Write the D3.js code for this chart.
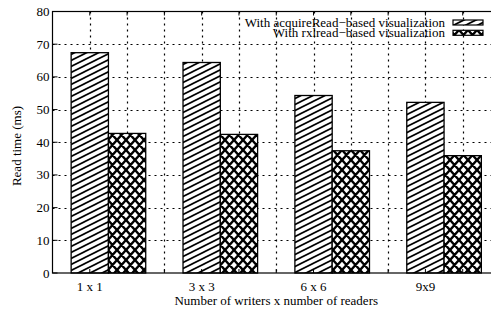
<!DOCTYPE html>
<html>
<head>
<meta charset="utf-8">
<script src="https://cdnjs.cloudflare.com/ajax/libs/d3/7.8.5/d3.min.js"></script>
<style>
  body { margin: 0; background: #fff; }
  svg { display: block; font-family: "Liberation Serif", "DejaVu Serif", serif; }
</style>
</head>
<body>
<div id="chart"></div>
<script>
var categories = ['1 x 1', '3 x 3', '6 x 6', '9x9'];
var acquireRead = [67.4, 64.4, 54.3, 52.2];
var rxlread = [42.7, 42.4, 37.4, 35.9];
var seriesNames = ['With acquireRead\u2212based visualization', 'With rxlread\u2212based visualization'];
var yTicks = [0, 10, 20, 30, 40, 50, 60, 70, 80];

function draw() {

  var width = 491, height = 313;
  var fontSize = 13;

  var svg = d3.select('#chart').append('svg')
    .attr('width', width)
    .attr('height', height);

  // fill patterns
  var defs = svg.append('defs');

  var hatch = defs.append('pattern')
    .attr('id', 'hatch')
    .attr('patternUnits', 'userSpaceOnUse')
    .attr('width', 12).attr('height', 6);
  hatch.append('rect').attr('width', 12).attr('height', 6).attr('fill', '#fff');
  hatch.append('path')
    .attr('d', 'M-12,12 L12,0 M0,6 L24,-6 M-12,6 L12,-6 M0,12 L24,0')
    .attr('stroke', '#000').attr('stroke-width', 1.7);

  var cross = defs.append('pattern')
    .attr('id', 'cross')
    .attr('patternUnits', 'userSpaceOnUse')
    .attr('width', 9).attr('height', 10);
  cross.append('rect').attr('width', 9).attr('height', 10).attr('fill', '#fff');
  cross.append('path')
    .attr('d', 'M0,10 L9,0 M-9,10 L9,-10 M0,20 L18,0 M0,0 L9,10 M-9,0 L9,20 M0,-10 L18,10')
    .attr('stroke', '#000').attr('stroke-width', 2.4);

  var fills = ['url(#hatch)', 'url(#cross)'];

  // x in bar-width units: each cluster = 2 bars + 1 gap
  var x = d3.scaleLinear().domain([-0.5, 11.5]).range([52.5, 500]);
  var y = d3.scaleLinear().domain([0, 80]).range([273, 11.5]);

  var x0 = x(-0.5), x1 = x(11.5), y0 = y(80), y1 = y(0);

  var gridU = d3.range(0, 11).map(function (k) { return k + 0.5; });

  // grid (dotted)
  var grid = svg.append('g');

  yTicks.slice(1, -1).forEach(function (v) {
    var py = Math.round(y(v)) + 0.5;
    grid.append('line')
      .attr('x1', x0).attr('x2', x1)
      .attr('y1', py).attr('y2', py)
      .style('stroke', '#000')
      .style('stroke-width', '1.2px')
      .style('stroke-dasharray', '2 4');
  });

  gridU.forEach(function (u) {
    var px = Math.round(x(u)) + 0.5;
    grid.append('line')
      .attr('x1', px).attr('x2', px)
      .attr('y1', y0).attr('y2', y1)
      .style('stroke', '#000')
      .style('stroke-width', '1.2px')
      .style('stroke-dasharray', '2 4');
  });

  // bars
  [acquireRead, rxlread].forEach(function (vals, s) {
    svg.append('g').selectAll('rect')
        .data(vals)
        .enter()
      .append('rect')
        .attr('x', function (d, i) { return x(3 * i + s); })
        .attr('width', x(1) - x(0))
        .attr('y', function (d) { return y(d); })
        .attr('height', function (d) { return y1 - y(d); })
        .attr('fill', fills[s])
        .attr('stroke', '#000')
        .attr('stroke-width', 1.3);
  });

  // border
  svg.append('rect')
    .attr('x', x0).attr('y', y0)
    .attr('width', x1 - x0).attr('height', y1 - y0)
    .attr('fill', 'none')
    .attr('stroke', '#000')
    .attr('stroke-width', 1.2);

  // y ticks
  var yAxis = svg.append('g');
  yAxis.selectAll('line')
      .data(yTicks)
      .enter()
    .append('line')
      .attr('x1', x0).attr('x2', x0 + 5)
      .attr('y1', function (d) { return y(d); })
      .attr('y2', function (d) { return y(d); })
      .attr('stroke', '#000');
  yAxis.selectAll('text')
      .data(yTicks)
      .enter()
    .append('text')
      .attr('x', x0 - 3)
      .attr('y', function (d) { return y(d) + 4.5; })
      .attr('text-anchor', 'end')
      .attr('font-size', fontSize)
      .text(function (d) { return d; });

  // x ticks top and bottom
  var xTicks = svg.append('g').attr('stroke', '#000');
  gridU.forEach(function (u) {
    xTicks.append('line')
      .attr('x1', x(u)).attr('x2', x(u))
      .attr('y1', y0).attr('y2', y0 + 4);
    xTicks.append('line')
      .attr('x1', x(u)).attr('x2', x(u))
      .attr('y1', y1).attr('y2', y1 - 4);
  });

  svg.append('g').selectAll('text')
      .data(categories)
      .enter()
    .append('text')
      .attr('x', function (d, i) { return x(3 * i + 0.5); })
      .attr('y', 291)
      .attr('text-anchor', 'middle')
      .attr('font-size', fontSize)
      .text(function (d) { return d; });

  // axis titles
  svg.append('text')
    .attr('x', (x0 + x1) / 2).attr('y', 305)
    .attr('text-anchor', 'middle')
    .attr('font-size', fontSize)
    .text('Number of writers x number of readers');

  svg.append('text')
    .attr('transform', 'translate(21,146) rotate(-90)')
    .attr('text-anchor', 'middle')
    .attr('font-size', fontSize)
    .text('Read time (ms)');

  // legend
  var legend = svg.append('g');
  seriesNames.forEach(function (name, s) {
    legend.append('text')
      .attr('x', 445)
      .attr('y', 26.5 + s * 10)
      .attr('text-anchor', 'end')
      .attr('font-size', fontSize)
      .text(name);
    legend.append('rect')
      .attr('x', 453).attr('y', 20 + s * 10.3)
      .attr('width', 30).attr('height', 5)
      .attr('fill', fills[s])
      .attr('stroke', '#000')
      .attr('stroke-width', 1.2);
  });
}

draw();
</script>
</body>
</html>
